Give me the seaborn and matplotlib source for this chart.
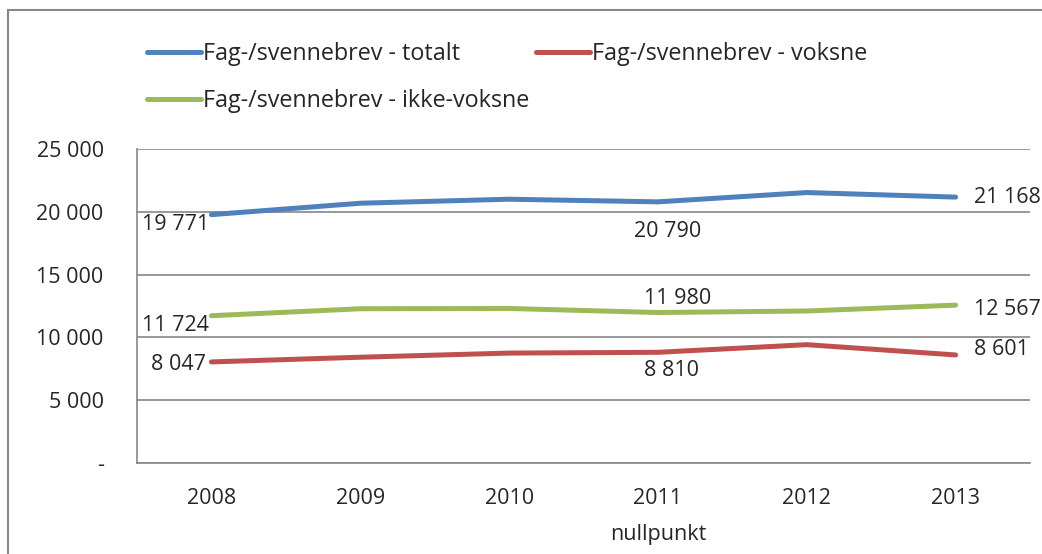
import pandas as pd
import seaborn as sns
import matplotlib.pyplot as plt
from matplotlib.patches import Rectangle
from matplotlib.ticker import FuncFormatter

# data
years = ["2008", "2009", "2010", "2011", "2012", "2013"]
year_labels = ["2008", "2009", "2010", "2011\nnullpunkt", "2012", "2013"]
totalt = [19771, 20680, 21000, 20790, 21530, 21168]
voksne = [8047, 8420, 8750, 8810, 9420, 8601]
ikke_voksne = [11724, 12280, 12300, 11980, 12100, 12567]

names = ["Fag-/svennebrev - totalt", "Fag-/svennebrev - voksne", "Fag-/svennebrev - ikke-voksne"]
colors = {names[0]: "#4F81BD", names[1]: "#C0504D", names[2]: "#9BBB59"}

df = pd.DataFrame({
    "year": years * 3,
    "x": list(range(6)) * 3,
    "value": totalt + voksne + ikke_voksne,
    "serie": [names[0]] * 6 + [names[1]] * 6 + [names[2]] * 6,
})

sns.set_style("white")
plt.rcParams["font.family"] = ["Open Sans", "DejaVu Sans"]
fs = 15.5

fig = plt.figure(figsize=(10.42, 5.54), dpi=100)
ax = fig.add_axes([0.1315, 0.1643, 0.857, 0.5668])

sns.lineplot(data=df, x="x", y="value", hue="serie", palette=colors,
             linewidth=3.6, ax=ax, legend=False, solid_capstyle="round")

ax.set_xlim(-0.5, 5.5)
ax.set_ylim(0, 25000)
ax.set_yticks(range(0, 25001, 5000))
ax.yaxis.set_major_formatter(FuncFormatter(lambda v, p: "-" if v == 0 else f"{int(v):,}".replace(",", " ")))
ax.set_xticks(range(6))
ax.set_xticklabels(year_labels)
ax.set_xticks([i - 0.5 for i in range(7)], minor=True)
ax.tick_params(axis="x", which="major", length=0, pad=18, labelsize=fs)
ax.tick_params(axis="x", which="minor", length=6, color="#868686", width=1.2)
ax.tick_params(axis="y", length=7, color="#868686", width=1.2, pad=17, labelsize=fs)
for t in ax.get_xticklabels():
    t.set_linespacing(1.95)
    t.set_verticalalignment("top")
ax.set_xlabel("")
ax.set_ylabel("")
ax.grid(axis="y", color="#868686", linewidth=1.2)
ax.set_axisbelow(True)
for s in ["top", "right"]:
    ax.spines[s].set_visible(False)
for s in ["left", "bottom"]:
    ax.spines[s].set_color("#868686")
    ax.spines[s].set_linewidth(1.2)

# data labels
def lab(i, vals, dx, dy, ha, va):
    ax.annotate(f"{vals[i]:,}".replace(",", " "), (i, vals[i]), xytext=(dx, dy),
                textcoords="offset points", ha=ha, va=va, fontsize=fs)

lab(0, totalt, -26, -7, "center", "center")
lab(0, ikke_voksne, -26, -7, "center", "center")
lab(0, voksne, -24, -2, "center", "center")
lab(3, totalt, 7, -21, "center", "center")
lab(3, ikke_voksne, 14, 10, "center", "center")
lab(3, voksne, 10, -13, "center", "center")
lab(5, totalt, 13, 0, "left", "center")
lab(5, ikke_voksne, 13, -3, "left", "center")
lab(5, voksne, 13, 4, "left", "center")

# legend
handles = [plt.Line2D([], [], color=colors[n], linewidth=3.6) for n in names]
order = [0, 2, 1]
fig.legend([handles[i] for i in order], [names[i] for i in order],
           loc="upper left", bbox_to_anchor=(0.132, 0.941), ncol=2, frameon=False,
           fontsize=16.8, handlelength=2.3, handletextpad=0.1, columnspacing=0.3,
           labelspacing=0.98, borderaxespad=0)

# outer chart frame
fig.patches.append(Rectangle((8 / 1042, -0.1), 1.2, 1.1 - 10 / 554, transform=fig.transFigure,
                             fill=False, edgecolor="#868686", linewidth=1.5))

fig.savefig("out.png", dpi=100)
